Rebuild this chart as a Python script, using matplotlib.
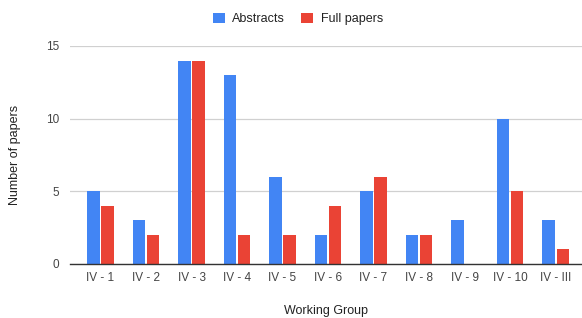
import numpy as np
import matplotlib.pyplot as plt

plt.rcParams['font.family'] = ['Liberation Sans', 'DejaVu Sans']

groups = ['IV - 1', 'IV - 2', 'IV - 3', 'IV - 4', 'IV - 5', 'IV - 6',
          'IV - 7', 'IV - 8', 'IV - 9', 'IV - 10', 'IV - III']
abstracts = [5, 3, 14, 13, 6, 2, 5, 2, 3, 10, 3]
full_papers = [4, 2, 14, 2, 2, 4, 6, 2, 0, 5, 1]

blue = '#4285F4'
red = '#EA4335'

fig = plt.figure(figsize=(5.82, 3.18), dpi=100)
ax = fig.add_axes([70 / 582, 54 / 318, 1 - 70 / 582, (264 - 46) / 318])

x = np.arange(len(groups))
w = 0.27
ax.bar(x - w / 2 - 0.02, abstracts, w, color=blue, label='Abstracts', zorder=3)
ax.bar(x + w / 2 + 0.02, full_papers, w, color=red, label='Full papers', zorder=3)

ax.set_xlim(-0.67, 10.58)
ax.set_ylim(0, 15)
ax.set_yticks([0, 5, 10, 15])
ax.set_xticks(x)
ax.set_xticklabels(groups)
ax.tick_params(length=0, labelsize=8.5, colors='#444444')
ax.tick_params(axis='x', pad=6)
ax.tick_params(axis='y', pad=8)
ax.grid(axis='y', color='#d0d0d0', linewidth=0.9, zorder=0)

for s in ['top', 'right', 'left']:
    ax.spines[s].set_visible(False)
ax.spines['bottom'].set_color('#333333')
ax.spines['bottom'].set_linewidth(1.0)
ax.spines['bottom'].set_zorder(4)

ax.set_xlabel('Working Group', fontsize=9, color='#222222', labelpad=15)
fig.text(15 / 582, 1 - 155 / 318, 'Number of papers', rotation=90,
         fontsize=9, color='#222222', ha='center', va='center')

fig.legend(loc='center', bbox_to_anchor=(298 / 582, 1 - 19 / 318), ncol=2,
           frameon=False, fontsize=9, handlelength=0.95, handleheight=0.95,
           columnspacing=1.3, handletextpad=0.6, labelcolor='#222222')

fig.savefig('out.png', dpi=100)
